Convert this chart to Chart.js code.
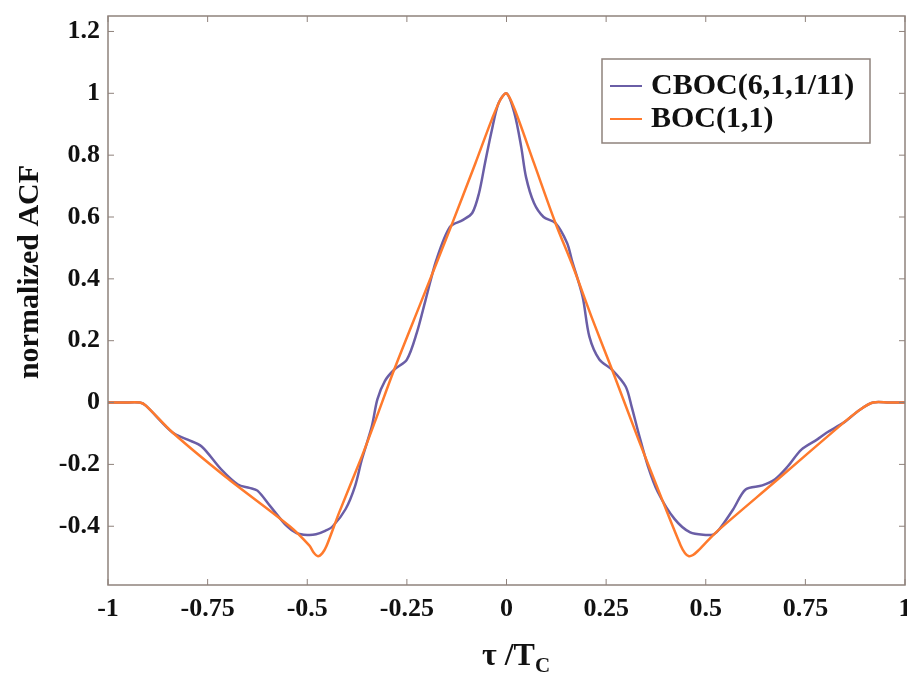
<!DOCTYPE html>
<html>
<head>
<meta charset="utf-8">
<script src="https://cdn.jsdelivr.net/npm/chart.js@4.4.1/dist/chart.umd.min.js"></script>
<style>
  html, body { margin: 0; padding: 0; background: #fff; overflow: hidden; }
  #wrap { width: 907px; height: 677px; position: relative; }
</style>
</head>
<body>
<div id="wrap"><canvas id="acfChart"></canvas></div>
<script>
// values (tau in chips, normalized ACF)
const cbocTau = [-1, -0.96, -0.92, -0.905, -0.838, -0.8, -0.765, -0.716, -0.674, -0.645, -0.625, -0.593, -0.551, -0.527, -0.5, -0.478, -0.455, -0.436, -0.404, -0.38, -0.363, -0.338, -0.324, -0.305, -0.282, -0.25, -0.225, -0.203, -0.176, -0.142, -0.11, -0.086, -0.069, -0.054, -0.037, -0.02, 0,
  0.02, 0.037, 0.049, 0.069, 0.093, 0.123, 0.152, 0.164, 0.191, 0.208, 0.233, 0.265, 0.299, 0.314, 0.331, 0.355, 0.38, 0.422, 0.461, 0.5, 0.52, 0.534, 0.569, 0.6, 0.642, 0.674, 0.706, 0.74, 0.78, 0.804, 0.846, 0.887, 0.92, 0.96, 1]
const cbocAcf = [0, 0, 0, -0.01, -0.097, -0.12, -0.142, -0.216, -0.265, -0.276, -0.285, -0.335, -0.4, -0.422, -0.428, -0.426, -0.415, -0.4, -0.345, -0.27, -0.184, -0.077, 0.01, 0.07, 0.106, 0.139, 0.226, 0.332, 0.461, 0.568, 0.59, 0.613, 0.677, 0.774, 0.88, 0.968, 1,
  0.935, 0.826, 0.729, 0.645, 0.6, 0.58, 0.516, 0.461, 0.342, 0.213, 0.139, 0.106, 0.052, -0.013, -0.097, -0.206, -0.29, -0.377, -0.42, -0.428, -0.426, -0.41, -0.345, -0.281, -0.268, -0.248, -0.206, -0.152, -0.119, -0.097, -0.065, -0.023, 0, 0, 0]

const bocTau = [-1, -0.96, -0.92, -0.905, -0.838, -0.706, -0.544, -0.495, -0.484, -0.473, -0.462, -0.452, -0.42, -0.363, -0.331, -0.282, -0.216, -0.142, -0.078, -0.037, -0.015, 0,
  0.02, 0.069, 0.123, 0.167, 0.216, 0.265, 0.331, 0.397, 0.437, 0.448, 0.458, 0.468, 0.48, 0.51, 0.534, 0.681, 0.846, 0.887, 0.92, 0.96, 1]
const bocAcf = [0, 0, 0, -0.01, -0.097, -0.239, -0.4, -0.462, -0.485, -0.497, -0.487, -0.465, -0.356, -0.174, -0.065, 0.106, 0.32, 0.56, 0.774, 0.915, 0.98, 1,
  0.95, 0.774, 0.58, 0.439, 0.268, 0.106, -0.119, -0.335, -0.462, -0.487, -0.497, -0.493, -0.48, -0.44, -0.41, -0.248, -0.065, -0.023, 0, 0, 0]

const xTicks = [-1, -0.75, -0.5, -0.25, 0, 0.25, 0.5, 0.75, 1]
const yTicks = [-0.4, -0.2, 0, 0.2, 0.4, 0.6, 0.8, 1, 1.2]

const FONT = '"Liberation Serif", "Times New Roman", serif'
const FRAME = '#8f827c'

function toPoints(xs, ys) {
  return xs.map((x, i) => ({ x, y: ys[i] }))
}

// box round the plot with small inward ticks, matlab style
const framePlugin = {
  id: 'frame',
  afterDraw(chart) {
    const { ctx, chartArea: a } = chart
    const xs = chart.scales.x
    const ys = chart.scales.y
    ctx.save()
    ctx.strokeStyle = FRAME
    ctx.lineWidth = 1.5
    ctx.strokeRect(a.left, a.top, a.right - a.left, a.bottom - a.top)
    ctx.lineWidth = 1
    xTicks.forEach(v => {
      const p = xs.getPixelForValue(v)
      ctx.beginPath()
      ctx.moveTo(p, a.bottom); ctx.lineTo(p, a.bottom - 6)
      ctx.moveTo(p, a.top); ctx.lineTo(p, a.top + 6)
      ctx.stroke()
    })
    yTicks.forEach(v => {
      const p = ys.getPixelForValue(v)
      ctx.beginPath()
      ctx.moveTo(a.left, p); ctx.lineTo(a.left + 6, p)
      ctx.moveTo(a.right, p); ctx.lineTo(a.right - 6, p)
      ctx.stroke()
    })

    // axis titles
    ctx.fillStyle = '#111'
    ctx.font = `bold 30px ${FONT}`
    ctx.textAlign = 'center'
    ctx.textBaseline = 'middle'
    ctx.save()
    ctx.translate(30, 272)
    ctx.rotate(-Math.PI / 2)
    ctx.fillText('normalized ACF', 0, 0)
    ctx.restore()

    ctx.textAlign = 'left'
    ctx.textBaseline = 'alphabetic'
    const main = 'τ /T'
    ctx.font = `bold 32px ${FONT}`
    const w1 = ctx.measureText(main).width
    ctx.font = `bold 21px ${FONT}`
    const w2 = ctx.measureText('C').width
    const x0 = 516 - (w1 + w2) / 2
    ctx.font = `bold 32px ${FONT}`
    ctx.fillText(main, x0, 665)
    ctx.font = `bold 21px ${FONT}`
    ctx.fillText('C', x0 + w1, 672)
    ctx.restore()
  }
}

// legend box in the upper right corner of the plot
const legendBoxPlugin = {
  id: 'legendBox',
  afterDraw(chart) {
    const { ctx, chartArea: a } = chart
    const bx = a.right - 303
    const by = a.top + 43
    ctx.save()
    ctx.fillStyle = '#fff'
    ctx.fillRect(bx, by, 268, 84)
    ctx.strokeStyle = FRAME
    ctx.lineWidth = 1.5
    ctx.strokeRect(bx, by, 268, 84)
    ctx.font = `bold 30px ${FONT}`
    ctx.textBaseline = 'middle'
    ctx.textAlign = 'left'
    chart.data.datasets.forEach((ds, i) => {
      const yy = by + 27 + i * 33
      ctx.strokeStyle = ds.borderColor
      ctx.lineWidth = 2
      ctx.beginPath()
      ctx.moveTo(bx + 8, yy)
      ctx.lineTo(bx + 40, yy)
      ctx.stroke()
      ctx.fillStyle = '#111'
      ctx.fillText(ds.label, bx + 49, yy)
    })
    ctx.restore()
  }
}

function tickFont() {
  return { family: FONT, size: 26, weight: 'bold' }
}

const ctx = document.getElementById('acfChart').getContext('2d')
new Chart(ctx, {
  type: 'line',
  data: {
    datasets: [
      {
        label: 'CBOC(6,1,1/11)',
        data: toPoints(cbocTau, cbocAcf),
        borderColor: '#6a5ea6',
        borderWidth: 2.5,
        pointRadius: 0,
        tension: 0.3,
        fill: false,
        order: 1,
      },
      {
        label: 'BOC(1,1)',
        data: toPoints(bocTau, bocAcf),
        borderColor: '#ff7a2c',
        borderWidth: 2.5,
        pointRadius: 0,
        tension: 0.3,
        fill: false,
        order: 0,
      }
    ]
  },
  options: {
    responsive: true,
    maintainAspectRatio: false,
    animation: false,
    layout: { padding: { top: 16, right: 2, left: 0, bottom: 0 } },
    plugins: {
      legend: { display: false },
      tooltip: { enabled: false },
    },
    scales: {
      x: {
        type: 'linear',
        min: -1,
        max: 1,
        afterBuildTicks: s => { s.ticks = xTicks.map(v => ({ value: v })) },
        afterFit: s => { s.height = 92; s.paddingLeft = 0; s.paddingRight = 0 },
        grid: { display: false, drawTicks: false },
        border: { display: false },
        ticks: {
          font: tickFont(),
          color: '#111',
          padding: 9,
          maxRotation: 0,
          autoSkip: false,
          callback: v => String(v),
        },
      },
      y: {
        min: -0.59,
        max: 1.25,
        afterBuildTicks: s => { s.ticks = yTicks.map(v => ({ value: v })) },
        afterFit: s => { s.width = 108; s.paddingTop = 0; s.paddingBottom = 0 },
        grid: { display: false, drawTicks: false },
        border: { display: false },
        ticks: {
          font: tickFont(),
          color: '#111',
          padding: 8,
          autoSkip: false,
          callback: v => String(Math.round(v * 10) / 10),
        },
      },
    },
  },
  plugins: [framePlugin, legendBoxPlugin],
})
</script>
</body>
</html>
